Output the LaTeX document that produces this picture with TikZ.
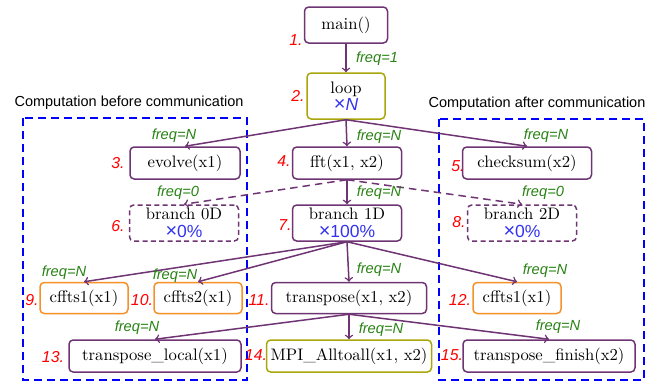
\documentclass[tikz,border=0pt]{standalone}
\usepackage{fontspec}
\newfontfamily\labelfont{Liberation Sans}
\definecolor{callpurple}{RGB}{110,52,115}
\definecolor{loopolive}{RGB}{170,165,10}
\definecolor{fftorange}{RGB}{245,145,40}
\definecolor{freqgreen}{RGB}{40,130,20}
\definecolor{repblue}{RGB}{50,50,240}
\newcommand{\repfactor}[1]{{\labelfont\color{repblue}{\fontsize{12}{11}\selectfont\char"00D7\relax}\fontsize{10.5}{11}\selectfont #1}}

\begin{document}
\begin{tikzpicture}
[x=0.6pt,y=-0.6pt,
  funcdecorate/.style={shape=rectangle,rounded corners=2.5pt,draw=callpurple,
    line width=0.9pt,inner sep=1pt,align=center,
    font=\fontsize{10}{11}\selectfont},%
  loopdecorate/.style={funcdecorate,draw=loopolive},%
  fftdecorate/.style={funcdecorate,draw=fftorange},%
  branchdecorate/.style={funcdecorate,dash pattern=on 3pt off 2pt},%
  linedecorate/.style={->,line width=0.9pt,draw=callpurple},%
  freqdecorate/.style={text=freqgreen,inner sep=0pt,
    font=\labelfont\itshape\fontsize{8.8}{10}\selectfont},%
  numdecorate/.style={text=red,inner sep=0pt,
    font=\labelfont\itshape\fontsize{9.5}{10}\selectfont},%
  groupdecorate/.style={draw=blue,line width=0.9pt,dash pattern=on 4.8pt off 3pt},%
  titledecorate/.style={inner sep=0pt,font=\labelfont\fontsize{8.7}{10}\selectfont}]
\useasboundingbox (0,0) rectangle (659,385);
%% groups
\draw[groupdecorate] (23,118) rectangle (247,380);
\draw[groupdecorate] (439,119) rectangle (644,380);
\node (before) at (129,103) [titledecorate] {Computation before communication};
\node (after) at (537,104) [titledecorate] {Computation after communication};
%% function nodes
\foreach \nodename/\x/\y/\w/\h/\txt in {
  main/346/25/49.8/21.6/{main()},
  evolve/185/163/66/19.2/{evolve(x1)},
  fft/347/163/65.4/19.2/{fft(x1, x2)},
  checksum/527/163/77.4/19.2/{checksum(x2)},
  bone/347/223/65.4/21.6/{branch 1D\\[-0.5pt]\repfactor{100\%}},
  transpose/349/298/93/18.6/{transpose(x1, x2)},
  tlocal/155/356/103.2/19.2/{transpose\_local(x1)},
  tfinish/549/356/103.2/19.2/{transpose\_finish(x2)}}
{
  \node (\nodename) at (\x,\y) [funcdecorate,minimum width=\w pt,minimum height=\h pt] {\txt};
}
\foreach \nodename/\x/\y/\w/\h/\txt in {
  loop/346/96/46.8/27.6/{loop\\[-0.5pt]\repfactor{\textit{N}}},
  alltoall/349/356/99/19.2/{MPI\_Alltoall(x1, x2)}}
{
  \node (\nodename) at (\x,\y) [loopdecorate,minimum width=\w pt,minimum height=\h pt] {\txt};
}
\foreach \nodename/\x/\y in {cfftsa/84/298, cfftsb/198/298, cfftsc/517/298}
{
  \node (\nodename) at (\x,\y) [fftdecorate,minimum width=52.8pt,minimum height=18.6pt]
    {\ifnum\x=198 cffts2(x1)\else cffts1(x1)\fi};
}
\foreach \nodename/\x/\y/\txt in {bzero/184/223/{branch 0D}, btwo/522/223/{branch 2D}}
{
  \node (\nodename) at (\x,\y) [branchdecorate,minimum width=65.4pt,minimum height=21.6pt]
    {\txt\\[-0.5pt]\repfactor{0\%}};
}
%% numbers
\foreach \nodename/\x/\y/\num in {
  na/296/40/1, nb/298/96/2, nc/118/163/3, nd/284/161/4, ne/458/166/5,
  nf/118/226/6, ng/285/225/7, nh/459/222/8, ni/32/300/9, nj/142/300/10,
  nk/259/300/11, nl/460/300/12, nm/53/357/13, nn/256/355/14, no/452/355/15}
{
  \node (\nodename) at (\x,\y) [numdecorate] {\num.};
}
%% edges or lines
\path
\foreach \startnode/\endnode in {
  main/loop, loop/evolve, loop/fft, loop/checksum, fft/bone,
  bone/cfftsa, bone/cfftsb, bone/transpose, bone/cfftsc,
  transpose/tlocal, transpose/alltoall, transpose/tfinish}
{
  (\startnode.south) edge[linedecorate] (\endnode.north)
};
\path
\foreach \startnode/\endnode in {fft/bzero, fft/btwo}
{
  (\startnode.south) edge[linedecorate,dash pattern=on 4.5pt off 3pt] (\endnode.north)
};
%% frequencies
\foreach \nodename/\x/\y/\txt in {
  fa/377/59/1, fb/174/136/N, fc/379/137/N, fd/546/136/N,
  fe/178/193/0, ff/379/193/N, fg/543/193/0,
  fh/64/273/N, fi/175/276/N, fj/379/270/N, fk/545/271/N,
  fl/137/328/N, fm/381/330/N, fn/558/327/N}
{
  \node (\nodename) at (\x,\y) [freqdecorate] {freq=\txt};
}
\end{tikzpicture}
\end{document}
